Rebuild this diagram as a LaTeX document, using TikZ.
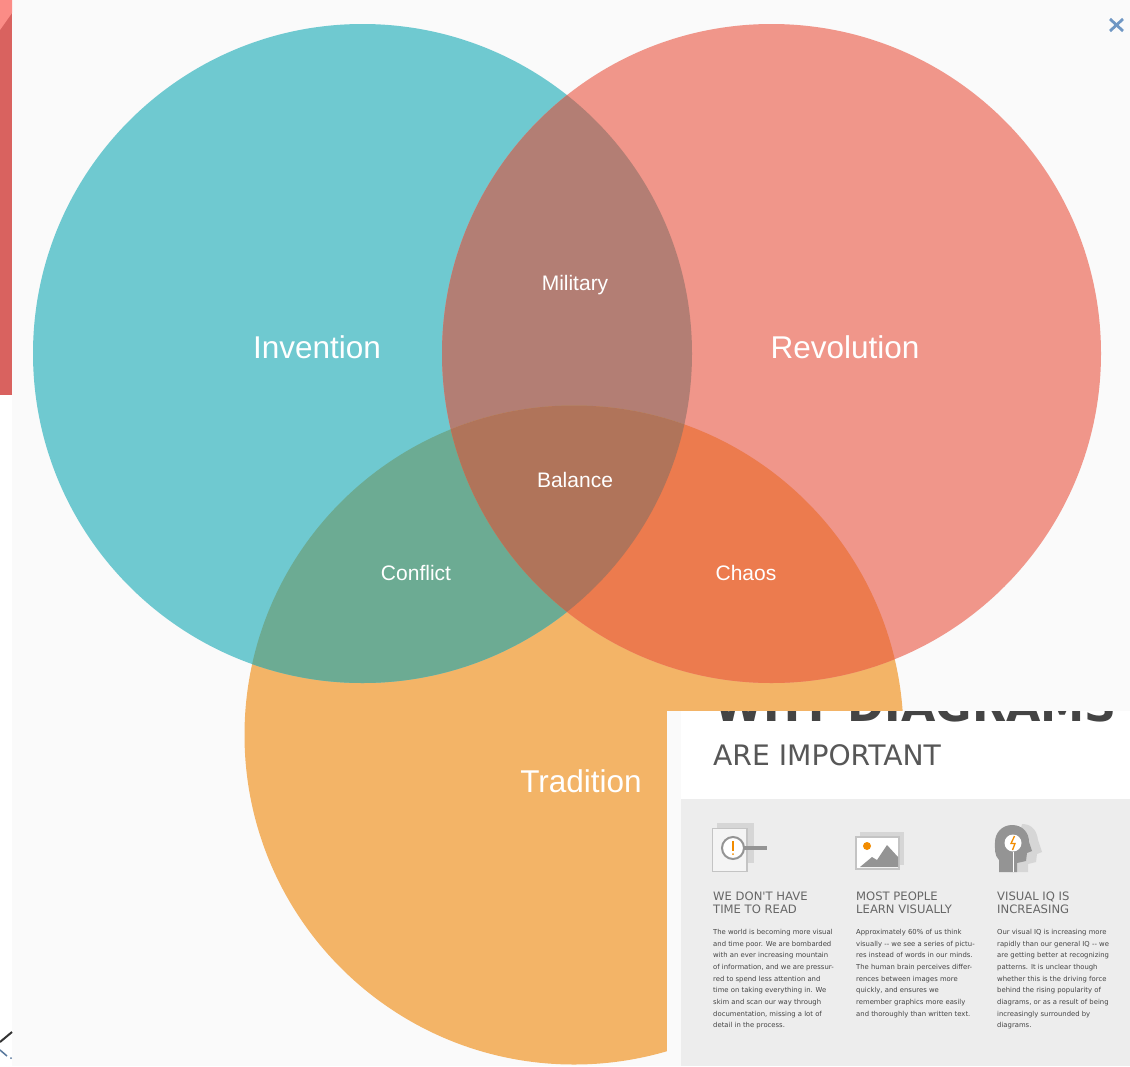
\documentclass[tikz,border=0pt]{standalone}
\usepackage{fontspec}
\setmainfont{Liberation Sans}
\newfontfamily\insetfont{DejaVu Sans}
\usepackage{xcolor}
\definecolor{paper}{HTML}{FAFAFA}
\definecolor{teal}{HTML}{6FC9D0}
\definecolor{salmon}{HTML}{F0968A}
\definecolor{amber}{HTML}{F3B467}
\definecolor{tealsalmon}{HTML}{B37E74}
\definecolor{tealamber}{HTML}{6CAB93}
\definecolor{salmonamber}{HTML}{EC7B4E}
\definecolor{centre}{HTML}{B0745A}
\definecolor{brick}{HTML}{D9625F}
\definecolor{blush}{HTML}{FB8C86}
\definecolor{closeblue}{HTML}{6F97C4}
\definecolor{panel}{HTML}{EDEDED}
\definecolor{inkdark}{HTML}{444444}
\definecolor{inkmid}{HTML}{666666}
\definecolor{iconlight}{HTML}{D6D6D6}
\definecolor{iconedge}{HTML}{C4C4C4}
\definecolor{icondark}{HTML}{949494}
\definecolor{spark}{HTML}{F28C00}

\def\CircleInvention{(362.5,353.5) circle (329.5)}
\def\CircleRevolution{(771.5,353.5) circle (329.5)}
\def\CircleTradition{(574,735) circle (329.5)}

\begin{document}
\begin{tikzpicture}[x=1pt,y=-1pt]
	\tikzstyle{big label}=[white,font=\fontsize{31.5}{36}\selectfont]
	\tikzstyle{small label}=[white,font=\fontsize{21}{25}\selectfont]
	\tikzstyle{column head}=[anchor=north west,inner sep=0pt,align=left,text=inkmid,font=\insetfont\fontsize{11.6}{13.2}\selectfont]
	\tikzstyle{column text}=[anchor=north west,inner sep=0pt,align=left,text=inkdark,font=\insetfont\fontsize{6.85}{11.66}\selectfont]
	\useasboundingbox (0,0) rectangle (1130,1066);

	% Draw the page and the bits of the window behind it.
	\fill [paper] (0,0) rectangle (1130,1066);
	\fill [white] (0,395) rectangle (12,1066);
	\fill [brick] (0,0) rectangle (12,395);
	\fill [blush] (0,0) -- (12,0) -- (12,13) -- (0,30) -- cycle;
	\draw [black!80,line width=2pt] (12,1032) -- (0,1042);
	\draw [closeblue!80!black,line width=1.5pt] (0,1050) -- (7,1056);
	\fill [closeblue!80!black] (11,1058) circle (1);

	% Draw the close mark.
	\draw [closeblue,line width=2.8pt] (1110,19) -- (1123,31);
	\draw [closeblue,line width=2.8pt] (1123,19) -- (1110,31);

	% Draw the three circles.
	\fill [amber] \CircleTradition;
	\fill [teal] \CircleInvention;
	\fill [salmon] \CircleRevolution;

	% Draw the overlaps, each one clipped to its circles.
	\begin{scope}
		\clip \CircleInvention;
		\fill [tealsalmon] \CircleRevolution;
		\fill [tealamber] \CircleTradition;
	\end{scope}
	\begin{scope}
		\clip \CircleRevolution;
		\fill [salmonamber] \CircleTradition;
	\end{scope}
	\begin{scope}
		\clip \CircleInvention;
		\clip \CircleRevolution;
		\fill [centre] \CircleTradition;
	\end{scope}

	% Label the regions.
	\node (invention) at (317,347) [big label] {Invention};
	\node (revolution) at (845,347) [big label] {Revolution};
	\node (tradition) at (581,781) [big label] {Tradition};
	\node (military) at (575,285) [small label] {Military};
	\node (balance) at (575,480) [small label] {Balance};
	\node (conflict) at (416,573) [small label] {Conflict};
	\node (chaos) at (746,573) [small label] {Chaos};

	% Draw the inset page over the corner.
	\fill [paper] (667,711) rectangle (1130,1066);
	\fill [white] (681,711) rectangle (1130,799);
	\fill [panel] (681,799) rectangle (1130,1066);
	\begin{scope}
		\clip (667,711) rectangle (1130,799);
		\node (whytitle) at (915.5,721) [anchor=base,inner sep=0pt,text=inkdark,font=\insetfont\bfseries\fontsize{44.4}{48}\selectfont] {WHY DIAGRAMS};
	\end{scope}
	\node (importanttitle) at (713,765) [anchor=base west,inner sep=0pt,text=inkdark!90!white,font=\insetfont\fontsize{28.2}{30}\selectfont] {ARE IMPORTANT};

	% First icon, the page under a lens.
	\fill [iconlight] (717,823) rectangle (754,863);
	\draw [fill=panel!60!white,draw=iconedge,line width=1.8pt] (712.5,828.5) rectangle (747,871.5);
	\draw [icondark,line width=3.5pt] (744,848) -- (767,848);
	\draw [fill=white,draw=icondark,line width=2pt] (733,848) circle (11);
	\draw [spark,line width=1.8pt] (733,841) -- (733,851);
	\fill [spark] (733,854) circle (1);

	% Second icon, the picture frame.
	\fill [iconlight] (860,832) rectangle (904,865);
	\draw [fill=white,draw=iconedge,line width=2pt] (856,836.5) rectangle (899,869);
	\fill [icondark] (860,867) -- (872,857) -- (877,860) -- (887,845) -- (898,857) -- (898,867) -- cycle;
	\fill [spark] (867,846) circle (4);

	% Third icon, the heads with the bulb.
	\fill [iconlight] (1022,824) .. controls (1033,824) and (1037,832) .. (1038,840)
		-- (1042,852) -- (1037,854) -- (1036,862) -- (1028,864) -- (1028,872) -- (1010,872) -- cycle;
	\fill [icondark] (1012,825) .. controls (1023,825) and (1029,833) .. (1029,842)
		-- (1032,851) -- (1027,853) -- (1026,861) -- (1017,863) -- (1017,872) -- (999,872)
		-- (999,860) .. controls (994,855) and (995,848) .. (995,842)
		.. controls (995,833) and (1002,825) .. (1012,825) -- cycle;
	\draw [white,line width=.8pt] (1013,852) -- (1013,872);
	\fill [white] (1013,843) circle (8.5);
	\draw [spark,line width=1.3pt] (1014.5,836) -- (1011,843.5) -- (1015,843.5) -- (1012.5,850);

	% Column headings.
	\node (headread) at (713,891.5) [column head] {WE DON'T HAVE\\TIME TO READ};
	\node (headlearn) at (856,891.5) [column head] {MOST PEOPLE\\LEARN VISUALLY};
	\node (headiq) at (997,891.5) [column head] {VISUAL IQ IS\\INCREASING};

	% Column texts.
	\node (textread) at (713,929) [column text] {The world is becoming more visual\\and time poor. We are bombarded\\with an ever increasing mountain\\of information, and we are pressur-\\red to spend less attention and\\time on taking everything in. We\\skim and scan our way through\\documentation, missing a lot of\\detail in the process.};
	\node (textlearn) at (856,929) [column text] {Approximately 60\% of us think\\visually -- we see a series of pictu-\\res instead of words in our minds.\\The human brain perceives differ-\\rences between images more\\quickly, and ensures we\\remember graphics more easily\\and thoroughly than written text.};
	\node (textiq) at (997,929) [column text] {Our visual IQ is increasing more\\rapidly than our general IQ -- we\\are getting better at recognizing\\patterns. It is unclear though\\whether this is the driving force\\behind the rising popularity of\\diagrams, or as a result of being\\increasingly surrounded by\\diagrams.};
\end{tikzpicture}
\end{document}
